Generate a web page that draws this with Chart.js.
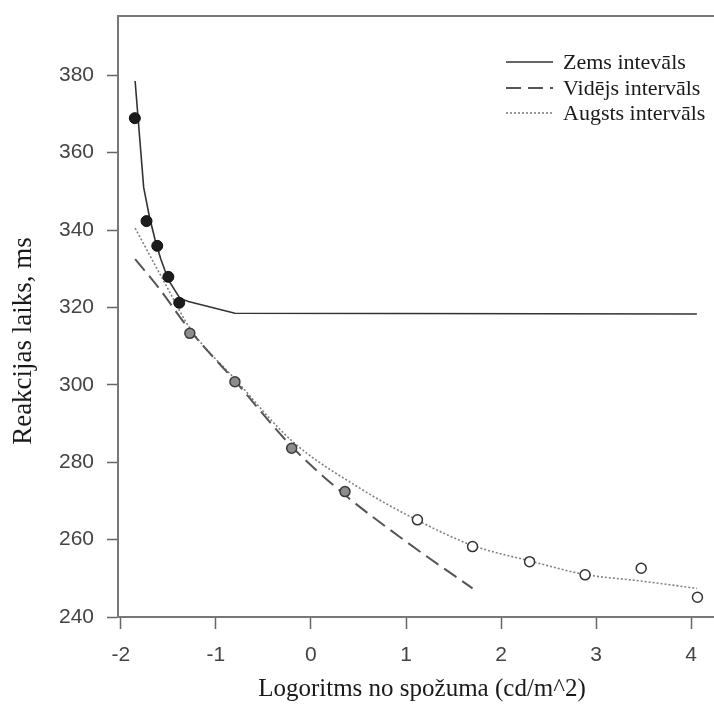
<!DOCTYPE html>
<html>
<head>
<meta charset="utf-8">
<script src="https://cdn.jsdelivr.net/npm/chart.js@4.4.1/dist/chart.umd.min.js"></script>
<style>
  html, body { margin: 0; padding: 0; background: #fff; }
  #wrap { width: 714px; height: 704px; }
</style>
</head>
<body>
<div id="wrap"><canvas id="chart" width="714" height="704"></canvas></div>
<script>
// values (x = log luminance, y = reaction time ms)
const legendLabels = ['Zems intevāls', 'Vidējs intervāls', 'Augsts intervāls'];
const xTitle = 'Logoritms no spožuma (cd/m^2)';
const yTitle = 'Reakcijas laiks, ms';

const lowX = [-1.85, -1.76, -1.70, -1.64, -1.58, -1.50, -1.38, -1.29, -0.80, 4.06];
const lowY = [378.5, 351.0, 343.5, 337.5, 332.5, 327.1, 322.4, 321.5, 318.5, 318.3];

const midX = [-1.85, -1.60, -1.27, -0.80, -0.20, 0.36, 1.00, 1.70];
const midY = [332.5, 325.0, 314.0, 301.0, 284.0, 271.5, 259.5, 247.4];

const highX = [-1.85, -1.52, -1.27, -0.80, -0.20, 0.50, 1.12, 1.70, 2.30, 2.88, 3.47, 4.06];
const highY = [340.5, 325.5, 314.5, 301.5, 285.5, 273.5, 265.0, 258.5, 254.5, 251.0, 249.3, 247.4];

const darkX = [-1.853, -1.73, -1.617, -1.50, -1.386];
const darkY = [368.9, 342.3, 335.9, 327.9, 321.2];

const grayX = [-1.274, -0.80, -0.203, 0.358];
const grayY = [313.3, 300.8, 283.6, 272.4];

const openX = [1.12, 1.70, 2.30, 2.884, 3.474, 4.066];
const openY = [265.1, 258.2, 254.3, 250.9, 252.6, 245.1];

function toPoints(xs, ys) {
    return xs.map((x, i) => ({ x: x, y: ys[i] }));
}

const serif = "'Liberation Serif', 'Times New Roman', serif";
const sans = "'Liberation Sans', Arial, sans-serif";

// top frame line, axis titles and the legend in the upper right
const extras = {
    id: 'extras',
    afterDraw(chart) {
        const ctx = chart.ctx;
        const area = chart.chartArea;
        ctx.save();

        ctx.strokeStyle = '#777';
        ctx.lineWidth = 2;
        ctx.beginPath();
        ctx.moveTo(area.left - 1, area.top);
        ctx.lineTo(area.right, area.top);
        ctx.stroke();

        ctx.fillStyle = '#1a1a1a';
        ctx.textAlign = 'center';
        ctx.textBaseline = 'middle';
        ctx.font = '25px ' + serif;
        ctx.fillText(xTitle, 422, 689);

        ctx.save();
        ctx.translate(24, 341);
        ctx.rotate(-Math.PI / 2);
        ctx.font = '27px ' + serif;
        ctx.fillText(yTitle, 0, 0);
        ctx.restore();

        ctx.font = '22px ' + serif;
        ctx.textAlign = 'left';
        const rows = [62, 88, 113];
        legendLabels.forEach((label, i) => {
            const ds = chart.data.datasets[i];
            ctx.strokeStyle = ds.borderColor;
            ctx.lineWidth = ds.borderWidth;
            ctx.setLineDash(ds.borderDash || []);
            ctx.beginPath();
            ctx.moveTo(506, rows[i]);
            ctx.lineTo(553, rows[i]);
            ctx.stroke();
            ctx.setLineDash([]);
            ctx.fillText(label, 563, rows[i] + 1);
        });
        ctx.restore();
    }
};

const ctx = document.getElementById('chart').getContext('2d');
new Chart(ctx, {
    type: 'scatter',
    data: {
        datasets: [
            { label: legendLabels[0], data: toPoints(lowX, lowY), showLine: true,
              borderColor: '#333', borderWidth: 1.6, pointRadius: 0, order: 2 },
            { label: legendLabels[1], data: toPoints(midX, midY), showLine: true,
              borderColor: '#555', borderWidth: 2, borderDash: [15, 7], pointRadius: 0,
              cubicInterpolationMode: 'monotone', order: 2 },
            { label: legendLabels[2], data: toPoints(highX, highY), showLine: true,
              borderColor: '#808080', borderWidth: 1.6, borderDash: [2, 2], pointRadius: 0,
              cubicInterpolationMode: 'monotone', order: 2 },
            { label: 'dark', data: toPoints(darkX, darkY), pointRadius: 5.5,
              backgroundColor: '#1c1c1c', borderColor: '#111', borderWidth: 1, order: 1 },
            { label: 'gray', data: toPoints(grayX, grayY), pointRadius: 5,
              backgroundColor: '#8c8c8c', borderColor: '#3a3a3a', borderWidth: 1.5, order: 1 },
            { label: 'open', data: toPoints(openX, openY), pointRadius: 5,
              backgroundColor: '#fff', borderColor: '#333', borderWidth: 1.5, order: 1 }
        ]
    },
    options: {
        responsive: false,
        devicePixelRatio: 1,
        animation: false,
        layout: { autoPadding: false, padding: { top: 16, right: 0, left: 0, bottom: 0 } },
        plugins: {
            legend: { display: false },
            tooltip: { enabled: false }
        },
        scales: {
            x: {
                type: 'linear',
                min: -2.03,
                max: 4.24,
                afterFit: s => {
                    s.height = 87;
                    s.paddingLeft = 0;
                    s.paddingRight = 0;
                },
                ticks: { stepSize: 1, includeBounds: false, color: '#444', padding: 14,
                         font: { family: sans, size: 21 } },
                grid: { drawOnChartArea: false, tickLength: 12, tickColor: '#666', tickWidth: 1.5 },
                border: { color: '#777', width: 2 }
            },
            y: {
                type: 'linear',
                min: 240,
                max: 395.3,
                afterFit: s => {
                    s.width = 118;
                    s.paddingTop = 0;
                    s.paddingBottom = 0;
                },
                ticks: { stepSize: 20, includeBounds: false, color: '#444', padding: 13,
                         font: { family: sans, size: 21 } },
                grid: { drawOnChartArea: false, tickLength: 11, tickColor: '#666', tickWidth: 1.5 },
                border: { color: '#777', width: 2 }
            }
        }
    },
    plugins: [extras]
});
</script>
</body>
</html>
